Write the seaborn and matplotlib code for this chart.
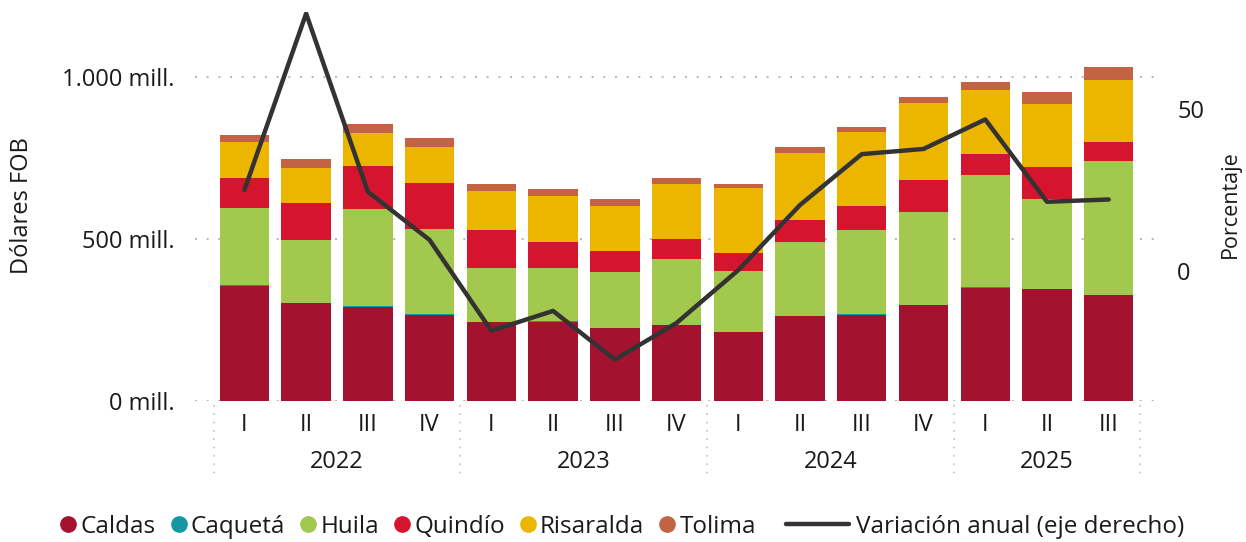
import numpy as np
import pandas as pd
import matplotlib
matplotlib.use("Agg")
import matplotlib.pyplot as plt
import matplotlib.transforms as mtransforms
from matplotlib.lines import Line2D
from matplotlib.ticker import FuncFormatter
import seaborn as sns

# ---------------- data ----------------
years = ["2022"] * 4 + ["2023"] * 4 + ["2024"] * 4 + ["2025"] * 3
quarters = ["I", "II", "III", "IV"] * 3 + ["I", "II", "III"]
caldas = [354, 302, 289, 265, 243, 242, 224, 234, 212, 261, 265, 295, 348, 345, 326]
caqueta = [2, 0.5, 4, 4, 0.5, 3, 0.5, 0.5, 0.5, 0.5, 3, 0.5, 3, 0.5, 0.5]
huila = [239, 192, 299, 261, 167, 165, 173, 204, 188, 228, 259, 287, 346, 278, 414]
quindio = [93, 117, 133, 142, 117, 80, 65, 62, 56, 68, 74, 99, 65, 99, 59]
risaralda = [111, 108, 102, 111, 120, 142, 139, 167, 201, 207, 228, 238, 198, 192, 191]
tolima = [22, 28, 28, 28, 22, 22, 22, 19, 12, 19, 16, 19, 25, 37, 40]
variacion = [25.0, 79.5, 24.5, 9.6, -18.4, -12.3, -27.3, -16.0, 0.3, 20.4,
             36.1, 37.7, 46.8, 21.4, 22.1]

series_names = ["Caldas", "Caquetá", "Huila", "Quindío", "Risaralda", "Tolima"]
series_vals = [caldas, caqueta, huila, quindio, risaralda, tolima]
colors = ["#A31330", "#1396A6", "#A2C84D", "#D7142D", "#ECB500", "#C46244"]
line_color = "#333333"
line_label = "Variación anual (eje derecho)"

# ---------------- frame ----------------
cats = [f"{y}-{q}" for y, q in zip(years, quarters)]
df = pd.DataFrame({"cat": cats})
cum = np.zeros(len(cats))
for name, vals in zip(series_names, series_vals):
    cum = cum + np.array(vals, dtype=float)
    df[name] = cum.copy()

sns.set_theme(style="white")
plt.rcParams["font.family"] = ["Open Sans", "DejaVu Sans"]
TXT = "#1a1a1a"
FS = 17

W, H = 1246, 542
fig = plt.figure(figsize=(W / 100, H / 100), dpi=100)
ax = fig.add_axes([195 / W, 1 - 400.7 / H, 960 / W, 388.8 / H])

# stacked bars: draw cumulative totals from top layer down
for name, col in reversed(list(zip(series_names, colors))):
    sns.barplot(data=df, x="cat", y=name, order=cats, color=col, saturation=1,
                width=0.8, errorbar=None, ax=ax, linewidth=0)

ax.set_ylim(0, 1200)
ax.set_xlim(-0.8, 14.75)
ax.set_yticks([0, 500, 1000])
ax.yaxis.set_major_formatter(FuncFormatter(lambda v, p: f"{int(v):,}".replace(",", ".") + " mill."))
ax.set_xticks(range(len(cats)))
ax.set_xticklabels(quarters)
ax.set_xlabel("")
ax.set_ylabel("")
ax.tick_params(axis="both", length=0, labelsize=FS, colors=TXT)
ax.tick_params(axis="x", pad=9)
ax.tick_params(axis="y", pad=15)
ax.yaxis.grid(True, linestyle=(0, (1, 5)), color="#b5b5b5", linewidth=1.4)
ax.xaxis.grid(False)
ax.set_axisbelow(True)
for s in ax.spines.values():
    s.set_visible(False)

# year labels and separators
trans = mtransforms.blended_transform_factory(ax.transData, ax.transAxes)
year_list = list(dict.fromkeys(years))
idx = np.arange(len(cats))
bounds = [-0.5]
for yv in year_list:
    pos = idx[np.array(years) == yv]
    ax.text(pos.mean(), -0.158, yv, transform=trans, ha="center", va="center",
            fontsize=FS, color=TXT)
    bounds.append(pos.max() + 0.5)
for b in bounds:
    ax.plot([b, b], [-0.012, -0.205], transform=trans, clip_on=False,
            color="#c0c0c0", linestyle=(0, (1, 4)), linewidth=1.2)

# line on secondary axis
ax2 = ax.twinx()
sns.lineplot(x=idx, y=variacion, ax=ax2, color=line_color, linewidth=3.2)
ax2.set_ylim(-40, 80)
ax2.set_xlim(-0.8, 14.75)
ax2.set_yticks([0, 50])
ax2.tick_params(axis="y", length=0, labelsize=FS, pad=16, colors=TXT)
ax2.set_ylabel("")
ax2.grid(False)
for s in ax2.spines.values():
    s.set_visible(False)

# axis titles
fig.text(22 / W, 1 - 206 / H, "Dólares FOB", rotation=90, ha="center", va="center",
         fontsize=17, color=TXT)
fig.text(1230 / W, 1 - 204 / H, "Porcentaje", rotation=90, ha="center", va="center",
         fontsize=15.5, color=TXT)

# legends
handles = [Line2D([0], [0], marker="o", linestyle="none", markersize=11,
                  markerfacecolor=c, markeredgecolor=c) for c in colors]
leg1 = fig.legend(handles, series_names, loc="center right",
                  bbox_to_anchor=(756 / W, 1 - 527 / H), ncol=6, frameon=False,
                  fontsize=17.5, handletextpad=0.1, columnspacing=0.55,
                  handlelength=0.8, borderaxespad=0, borderpad=0)
for t in leg1.get_texts():
    t.set_color(TXT)
line_handle = Line2D([0], [0], color=line_color, linewidth=3.2)
leg2 = fig.legend([line_handle], [line_label], loc="center left",
                  bbox_to_anchor=(786 / W, 1 - 527 / H), frameon=False,
                  fontsize=17.5, handletextpad=0.3, handlelength=2.6,
                  borderaxespad=0, borderpad=0)
for t in leg2.get_texts():
    t.set_color(TXT)

fig.savefig("out.png", dpi=100)
